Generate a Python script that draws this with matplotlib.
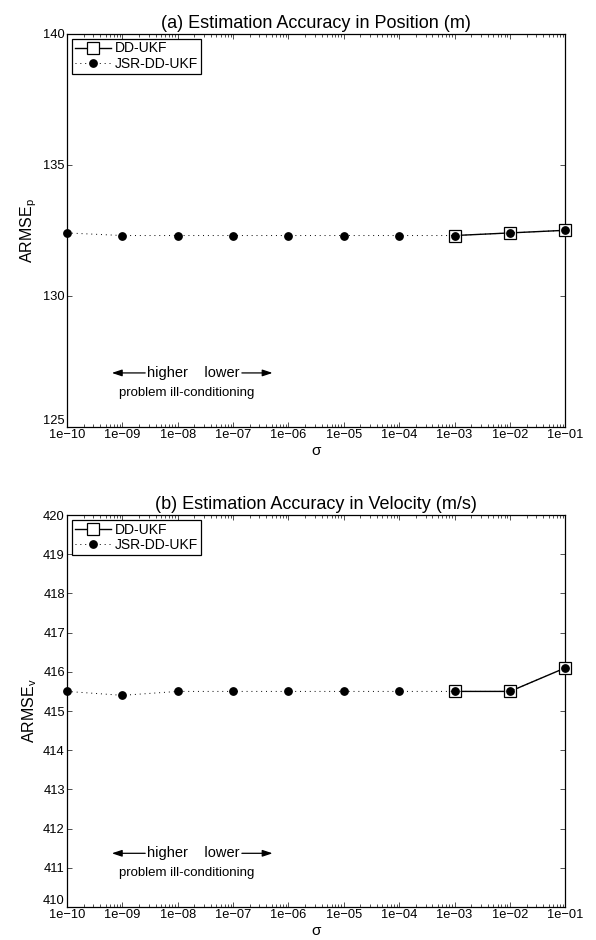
import numpy as np
import matplotlib
matplotlib.use('Agg')
import matplotlib.pyplot as plt
from matplotlib.ticker import LogLocator, NullFormatter

plt.rcParams['font.family'] = ['Liberation Sans', 'DejaVu Sans']

# --- data ---
sigma_all = [1e-10, 1e-9, 1e-8, 1e-7, 1e-6, 1e-5, 1e-4, 1e-3, 1e-2, 1e-1]
sigma_dd = [1e-3, 1e-2, 1e-1]

pos_jsr = [132.4, 132.3, 132.3, 132.3, 132.3, 132.3, 132.3, 132.3, 132.4, 132.5]
pos_dd = [132.3, 132.4, 132.5]

vel_jsr = [415.5, 415.4, 415.5, 415.5, 415.5, 415.5, 415.5, 415.5, 415.5, 416.1]
vel_dd = [415.5, 415.5, 416.1]

xtick_labels = ['1e\u221210', '1e\u221209', '1e\u221208', '1e\u221207', '1e\u221206',
                '1e\u221205', '1e\u221204', '1e\u221203', '1e\u221202', '1e\u221201']

panels = [
    dict(title='(a) Estimation Accuracy in Position (m)', ylabel='ARMSE$_\\mathregular{p}$',
         dd=pos_dd, jsr=pos_jsr, ylim=(125, 140), yticks=[125, 130, 135, 140],
         rect=[0.1124, 0.546, 0.836, 0.418]),
    dict(title='(b) Estimation Accuracy in Velocity (m/s)', ylabel='ARMSE$_\\mathregular{v}$',
         dd=vel_dd, jsr=vel_jsr, ylim=(410, 420), yticks=list(range(410, 421)),
         rect=[0.1124, 0.0351, 0.836, 0.417]),
]

fig = plt.figure(figsize=(5.96, 9.4), dpi=100)

for p in panels:
    ax = fig.add_axes(p['rect'])
    ax.plot(sigma_dd, p['dd'], color='black', linewidth=1.0, marker='s',
            markersize=8.4, markerfacecolor='white', markeredgecolor='black',
            markeredgewidth=0.9, label='DD-UKF', clip_on=False, zorder=3)
    ax.plot(sigma_all, p['jsr'], color='black', linewidth=0.7, linestyle=(0, (1, 4)),
            marker='o', markersize=5.3, markerfacecolor='black', markeredgecolor='black',
            label='JSR-DD-UKF', clip_on=False, zorder=4)

    ax.set_xscale('log')
    ax.set_xlim(1e-10, 1e-1)
    ax.set_ylim(*p['ylim'])
    ax.set_xticks(sigma_all)
    ax.set_xticklabels(xtick_labels)
    ax.xaxis.set_minor_locator(LogLocator(base=10, subs=np.arange(2, 10), numticks=20))
    ax.xaxis.set_minor_formatter(NullFormatter())
    ax.set_yticks(p['yticks'])

    ax.tick_params(which='both', direction='in', top=True, right=True,
                   labelsize=9.3, pad=1.5, width=0.6, color='#333333')
    ax.tick_params(which='major', length=3.5)
    ax.tick_params(which='minor', length=2)
    # lowest y label sits just above the axis corner, as in the reference
    ax.get_yticklabels()[0].set_va('bottom')
    for s in ax.spines.values():
        s.set_linewidth(0.9)

    ax.set_title(p['title'], fontsize=13, pad=4)
    ax.set_xlabel('σ', fontsize=11, labelpad=2)
    ax.set_ylabel(p['ylabel'], fontsize=11.5, labelpad=3)

    leg = ax.legend(loc='upper left', fontsize=10, numpoints=1, handlelength=2.6,
                    handletextpad=0.3, borderpad=0.2, labelspacing=0.12,
                    borderaxespad=0.35, fancybox=False, framealpha=1)
    leg.get_frame().set_edgecolor('black')
    leg.get_frame().set_linewidth(0.9)

    ax.text(0.254, 0.137, 'higher    lower', transform=ax.transAxes,
            ha='center', va='center', fontsize=10.5)
    arrow = dict(arrowstyle='-|>,head_length=0.6,head_width=0.2', color='black', lw=0.9,
                 shrinkA=0, shrinkB=0)
    ax.annotate('', xy=(0.09, 0.137), xytext=(0.157, 0.137),
                xycoords='axes fraction', textcoords='axes fraction', arrowprops=arrow)
    ax.annotate('', xy=(0.4126, 0.137), xytext=(0.351, 0.137),
                xycoords='axes fraction', textcoords='axes fraction', arrowprops=arrow)
    ax.text(0.2396, 0.0865, 'problem ill-conditioning', transform=ax.transAxes,
            ha='center', va='center', fontsize=9.5)

fig.savefig('out.png', dpi=100)
